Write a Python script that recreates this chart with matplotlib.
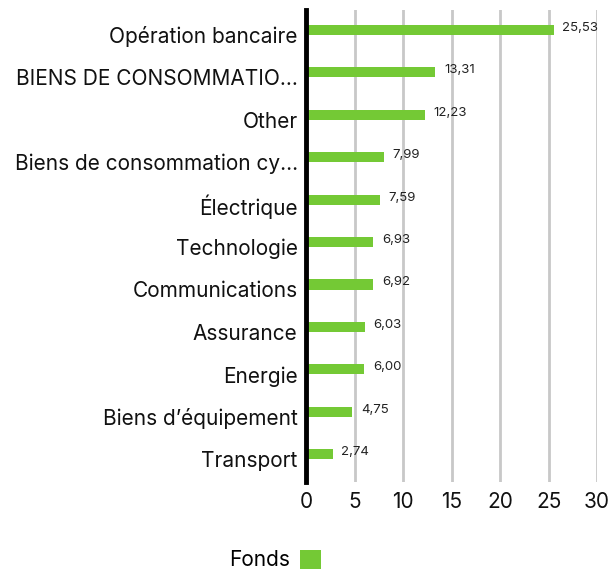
import numpy as np
import matplotlib.pyplot as plt
from matplotlib.patches import Patch

plt.rcParams['font.family'] = ['Inter', 'DejaVu Sans']

CATEGORIES = [
    "Opération bancaire",
    "BIENS DE CONSOMMATIO...",
    "Other",
    "Biens de consommation cy...",
    "Électrique",
    "Technologie",
    "Communications",
    "Assurance",
    "Energie",
    "Biens d’équipement",
    "Transport",
]
FONDS = [25.53, 13.31, 12.23, 7.99, 7.59, 6.93, 6.92, 6.03, 6.00, 4.75, 2.74]
XTICKS = [0, 5, 10, 15, 20, 25, 30]

GREEN = '#74c935'


def fmt(v):
    return f"{v:.2f}".replace('.', ',')


def main():
    fig = plt.figure(figsize=(6.09, 5.72), dpi=100)
    ax = fig.add_axes([0.5025, 0.157, 0.478, 0.8255])

    y = np.arange(len(CATEGORIES))
    bars = ax.barh(y, FONDS, height=0.24, color=GREEN, zorder=3)
    for b, v in zip(bars, FONDS):
        ax.text(b.get_width() + 0.9, b.get_y() + b.get_height() / 2 - 0.05,
                fmt(v), va='center', ha='left', fontsize=9.5, color='#222222')

    # category labels sit a little below the bars in the original
    ax.set_yticks(y)
    ax.set_yticklabels([])
    for yi, name in zip(y, CATEGORIES):
        ax.annotate(name, xy=(0, yi), xycoords=('axes fraction', 'data'),
                    xytext=(-6, -5), textcoords='offset points',
                    ha='right', va='center', fontsize=15, color='#111111')
    ax.set_ylim(len(CATEGORIES) - 0.34, -0.47)
    ax.set_xlim(0, 30)
    ax.set_xticks(XTICKS)
    ax.set_xticklabels([str(t) for t in XTICKS], fontsize=15, color='#111111')
    ax.tick_params(axis='y', length=0)
    ax.tick_params(axis='x', length=0, pad=7)

    ax.xaxis.grid(True, color='#c8c8c8', linewidth=2, zorder=0)
    ax.set_axisbelow(True)
    for s in ['top', 'right', 'bottom']:
        ax.spines[s].set_visible(False)
    ax.spines['left'].set_linewidth(3.5)
    ax.spines['left'].set_color('black')
    ax.spines['left'].set_zorder(4)

    handle = Patch(facecolor=GREEN, edgecolor='none')
    fig.legend([handle], ['Fonds'], loc='lower center', bbox_to_anchor=(0.452, -0.03),
               frameon=False, markerfirst=False, fontsize=15, handlelength=1.0,
               handleheight=1.0, handletextpad=0.5)

    fig.savefig('out.png', dpi=100)


if __name__ == "__main__":
    main()
